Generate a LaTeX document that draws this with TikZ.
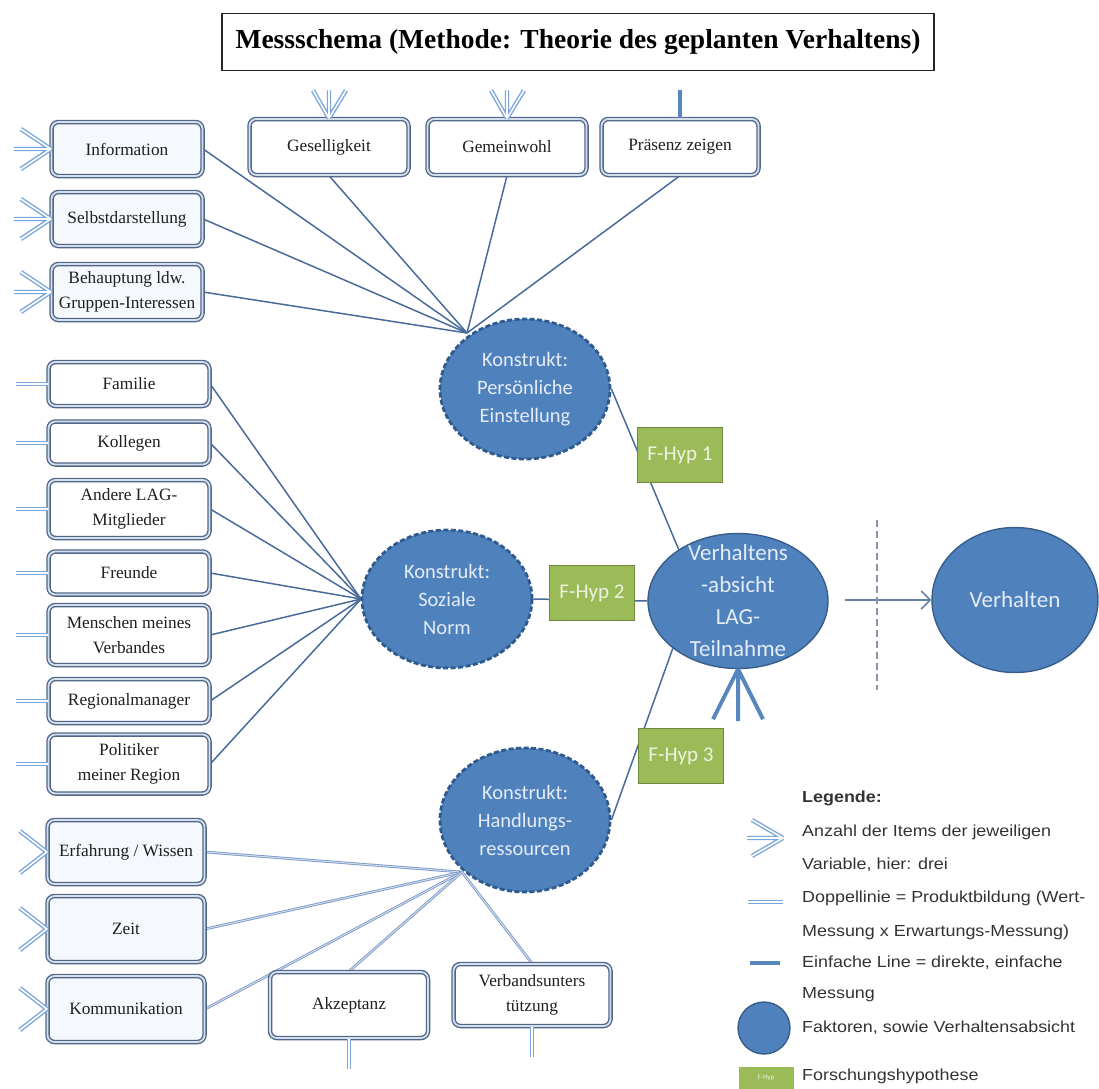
\documentclass[tikz,border=0pt]{standalone}
\usepackage{fontspec}
\setmainfont{Liberation Serif}
\newfontfamily\calib{Carlito}
\newfontfamily\legfont[FakeStretch=1.12]{Liberation Sans}
\usetikzlibrary{shapes.geometric,arrows.meta,backgrounds}

\definecolor{factor}{HTML}{4F81BD}
\definecolor{factorline}{HTML}{385D8A}
\definecolor{constructline}{HTML}{2F5A8E}
\definecolor{hyp}{HTML}{9BBB59}
\definecolor{hypline}{HTML}{71893F}
\definecolor{hyptext}{HTML}{EEF2DF}
\definecolor{boxline}{HTML}{50678A}
\definecolor{boxgap}{HTML}{D5DFEC}
\definecolor{itemfill}{HTML}{F5F8FC}
\definecolor{link}{HTML}{4A6B99}
\definecolor{linklight}{HTML}{7E9BC8}
\definecolor{itemblue}{HTML}{7AA6DC}
\definecolor{facttext}{HTML}{E4ECF6}
\definecolor{legtext}{HTML}{333333}
\definecolor{divider}{HTML}{8A93A8}

\tikzset{
  titlebox/.style={rectangle, draw=black!85, line width=1.8pt, fill=white,
    minimum width=712, minimum height=57,
    font=\bfseries\fontsize{27.5}{30}\selectfont},
  itembox/.style={rectangle, rounded corners=7pt, draw=boxline, double=boxgap,
    double distance=1.8pt, line width=1.35pt, fill=white, align=center,
    text=black!88, inner sep=2pt, font=\fontsize{17.3}{25}\selectfont},
  factorshape/.style={ellipse, fill=factor, draw=factorline, line width=1.4pt,
    inner sep=0pt},
  construct/.style={factorshape, draw=constructline, line width=2.8pt,
    dash pattern=on 5pt off 2.5pt},
  facttxt/.style={text=facttext, align=center, font=\calib\fontsize{20.5}{28}\selectfont},
  bigtxt/.style={text=facttext, align=center, font=\calib\fontsize{23}{32}\selectfont},
  hypbox/.style={rectangle, fill=hyp, draw=hypline, line width=1.3pt,
    minimum width=85, minimum height=55, text=hyptext,
    font=\calib\fontsize{21}{24}\selectfont},
  link/.style={draw=link, line width=1.5pt},
  lightlink/.style={draw=linklight, double=boxgap, line width=0.9pt, double distance=0.9pt},
  itemline/.style={draw=itemblue, double=white, line width=1.4pt, double distance=1.6pt},
  singleline/.style={draw=factor!95!white, line width=4pt},
  legtxt/.style={anchor=west, text=legtext, inner sep=0pt,
    font=\legfont\fontsize{16}{20}\selectfont},
}

\begin{document}
\begin{tikzpicture}[x=1pt,y=-1pt]
\useasboundingbox (0,0) rectangle (1099,1088);

% heading
\node[titlebox] (title) at (578,42) {Messschema (Methode: Theorie des geplanten Verhaltens)};

% items of the attitude construct
\node[itembox, fill=itemfill, minimum width=151, minimum height=54] (info) at (127,149) {Information};
\node[itembox, fill=itemfill, minimum width=151, minimum height=54] (selbst) at (127,219) {Selbstdarstellung};
\node[itembox, fill=itemfill, minimum width=151, minimum height=56] (behaupt) at (127,292) {Behauptung ldw.\\Gruppen-Interessen};
\node[itembox, minimum width=159, minimum height=56] (gesell) at (329,147) {Geselligkeit};
\node[itembox, minimum width=159, minimum height=56] (gemein) at (507,147) {Gemeinwohl};
\node[itembox, minimum width=157, minimum height=56] (praesenz) at (680,147) {Präsenz zeigen};

% items of the social norm construct
\node[itembox, minimum width=161, minimum height=44] (familie) at (129,384) {Familie};
\node[itembox, minimum width=161, minimum height=43] (kollegen) at (129,443) {Kollegen};
\node[itembox, minimum width=161, minimum height=58] (andere) at (129,509) {Andere LAG-\\Mitglieder};
\node[itembox, minimum width=161, minimum height=43] (freunde) at (129,573) {Freunde};
\node[itembox, minimum width=161, minimum height=60] (menschen) at (129,635) {Menschen meines\\Verbandes};
\node[itembox, minimum width=161, minimum height=44] (regional) at (129,701) {Regionalmanager};
\node[itembox, minimum width=161, minimum height=59] (politiker) at (129,764) {Politiker\\meiner Region};

% items of the resources construct
\node[itembox, fill=itemfill, minimum width=157, minimum height=64] (erfahrung) at (126,852) {Erfahrung / Wissen};
\node[itembox, fill=itemfill, minimum width=157, minimum height=66] (zeit) at (126,929) {Zeit};
\node[itembox, fill=itemfill, minimum width=157, minimum height=66] (komm) at (126,1009) {Kommunikation};
\node[itembox, minimum width=158, minimum height=66] (akzeptanz) at (349,1005) {Akzeptanz};
\node[itembox, minimum width=157, minimum height=62] (verbands) at (532,995) {Verbandsunters\\tützung};

% constructs and intention
\node[construct, minimum width=170, minimum height=140,
  label={[facttxt]center:Konstrukt:\\Persönliche\\Einstellung}] (pers) at (525,389) {};
\node[construct, minimum width=170, minimum height=138,
  label={[facttxt]center:Konstrukt:\\Soziale\\Norm}] (sozial) at (447,599) {};
\node[construct, minimum width=170, minimum height=144,
  label={[facttxt]center:Konstrukt:\\Handlungs-\\ressourcen}] (handl) at (525,820) {};
\node[factorshape, minimum width=180, minimum height=135,
  label={[bigtxt]center:Verhaltens\\-absicht\\LAG-\\Teilnahme}] (absicht) at (738,601) {};
\node[factorshape, minimum width=166, minimum height=145,
  label={[bigtxt]center:Verhalten}] (verhalten) at (1015,600) {};

% research hypotheses
\node[hypbox] (h1) at (680,455) {F-Hyp 1};
\node[hypbox] (h2) at (592,593) {F-Hyp 2};
\node[hypbox] (h3) at (681,756) {F-Hyp 3};

% connectors behind the shapes
\coordinate (pconv) at (467,333);
\coordinate (sconv) at (361,599);
\coordinate (hconv) at (462,872);
\begin{pgfonlayer}{background}
  \foreach \n in {info,selbst,behaupt} \draw[link] (\n.east) -- (pconv);
  \foreach \n in {gesell,gemein,praesenz} \draw[link] (\n.south) -- (pconv);
  \foreach \n in {familie,kollegen,andere,freunde,menschen,regional,politiker}
    \draw[link] (\n.east) -- (sconv);
  \foreach \n in {erfahrung,zeit,komm} \draw[lightlink] (\n.east) -- (hconv);
  \foreach \n in {akzeptanz,verbands} \draw[lightlink] (\n.north) -- (hconv);
  \draw[link] (pers.east) -- (absicht.139);
  \draw[link] (sozial.east) -- (absicht.west);
  \draw[link] (handl.east) -- (absicht.216);
\end{pgfonlayer}

% item marks: three items per variable
\foreach \n in {info,selbst,behaupt}
  \draw[itemline] (\n.west) -- ++(-30,-20) (\n.west) -- ++(-37,0) (\n.west) -- ++(-30,20);
\foreach \n in {gesell,gemein}
  \draw[itemline] (\n.north) -- ++(-16,-28) (\n.north) -- ++(0,-28) (\n.north) -- ++(17,-28);
\draw[singleline] (praesenz.north) -- ++(0,-28);
% product measurement (double lines)
\foreach \n in {familie,kollegen,andere,freunde,menschen,regional,politiker}
  \draw[itemline] (\n.west) -- ++(-32,0);
\foreach \n in {erfahrung,zeit,komm}
  \draw[itemline] (\n.west) -- ++(-27,-21) (\n.west) -- ++(-27,21);
\foreach \n in {akzeptanz,verbands}
  \draw[itemline] (\n.south) -- ++(0,30);
% intention measured directly
\draw[singleline] (absicht.south) -- ++(-25,50) (absicht.south) -- ++(0,52) (absicht.south) -- ++(25,50);

% intention leads to behaviour
\coordinate (arrowstart) at (845,600);
\draw[draw=link!85!white, line width=1.5pt, -{Straight Barb[length=9pt,width=18pt,line width=1.5pt]}]
  (arrowstart) -- (verhalten.west);
\draw[draw=divider, line width=1.6pt, dash pattern=on 7pt off 4pt] (877,520) -- (877,690);

% legend
\node[legtxt, font=\legfont\bfseries\fontsize{16}{20}\selectfont] (legtitle) at (802,798) {Legende:};
\draw[itemline] (783,838) -- (752,820) (783,838) -- (747,838) (783,838) -- (752,856);
\node[legtxt] (leg1) at (802,832) {Anzahl der Items der jeweiligen};
\node[legtxt] (leg1b) at (802,865) {Variable, hier: drei};
\draw[itemline] (748,902) -- (783,902);
\node[legtxt] (leg2) at (802,898) {Doppellinie = Produktbildung (Wert-};
\node[legtxt] (leg2b) at (802,932) {Messung x Erwartungs-Messung)};
\draw[singleline] (750,963) -- (780,963);
\node[legtxt] (leg3) at (802,963) {Einfache Line = direkte, einfache};
\node[legtxt] (leg3b) at (802,995) {Messung};
\node[factorshape, circle, minimum size=52] (legcircle) at (764,1028) {};
\node[legtxt] (leg4) at (802,1028) {Faktoren, sowie Verhaltensabsicht};
\node[rectangle, fill=hyp, minimum width=55, minimum height=22, inner sep=0pt,
  text=hyptext, font=\calib\fontsize{7}{8}\selectfont] (leghyp) at (766,1078) {F-Hyp};
\node[legtxt] (leg5) at (802,1076) {Forschungshypothese};
\end{tikzpicture}
\end{document}
